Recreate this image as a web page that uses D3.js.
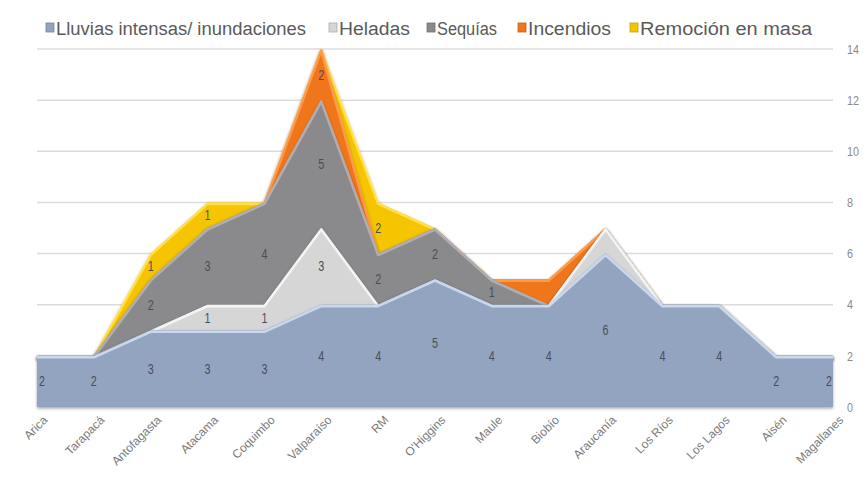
<!DOCTYPE html>
<html>
<head>
<meta charset="utf-8">
<script src="https://cdn.jsdelivr.net/npm/d3@7"></script>
<style>
  html, body { margin: 0; padding: 0; background: #fff; }
  svg { display: block; }
  text { font-family: "Liberation Sans", Arial, sans-serif; }
</style>
</head>
<body>
<svg id="chart" width="866" height="483"></svg>
<script>
// Regions of Chile (north to south)
const regions = ["Arica", "Tarapacá", "Antofagasta", "Atacama", "Coquimbo", "Valparaíso", "RM",
  "O'Higgins", "Maule", "Biobío", "Araucanía", "Los Ríos", "Los Lagos", "Aisén", "Magallanes"];

// Number of events per hazard type, per region
const lluvias   = [2, 2, 3, 3, 3, 4, 4, 5, 4, 4, 6, 4, 4, 2, 2];
const heladas   = [0, 0, 0, 1, 1, 3, 0, 0, 0, 0, 1, 0, 0, 0, 0];
const sequias   = [0, 0, 2, 3, 4, 5, 2, 2, 1, 0, 0, 0, 0, 0, 0];
const incendios = [0, 0, 0, 0, 0, 2, 0, 0, 0, 1, 0, 0, 0, 0, 0];
const remocion  = [0, 0, 1, 1, 0, 0, 2, 0, 0, 0, 0, 0, 0, 0, 0];

const seriesNames = ["Lluvias intensas/ inundaciones", "Heladas", "Sequías", "Incendios", "Remoción en masa"];
const yTicks = [0, 2, 4, 6, 8, 10, 12, 14];

// Values whose data label is not drawn (covered by neighbouring bands)
const hiddenLabels = [[1, 10], [3, 9]];

const seriesValues = [lluvias, heladas, sequias, incendios, remocion];
const keys = ["lluvias", "heladas", "sequias", "incendios", "remocion"];
const fills = ["#92a4c0", "#d6d6d6", "#8a898c", "#f0761e", "#f4c500"];
const highlights = ["#c9d8ee", "#f4f4f4", "#b0aeb2", "#ff9a4a", "#ffe04a"];

const table = regions.map((r, i) => {
  const row = { region: r };
  keys.forEach((k, s) => row[k] = seriesValues[s][i]);
  return row;
});

const svg = d3.select("#chart");
const margin = { left: 37, right: 33, top: 49, bottom: 76 };
const W = 866, H = 483;

const x = d3.scalePoint().domain(regions).range([margin.left, W - margin.right]).padding(0);
const y = d3.scaleLinear().domain([0, 14]).range([H - margin.bottom, margin.top]);

const defs = svg.append("defs");
const shadow = defs.append("filter").attr("id", "shade").attr("x", "-5%").attr("y", "-5%").attr("width", "110%").attr("height", "115%");
shadow.append("feDropShadow").attr("dx", 0).attr("dy", 1.5).attr("stdDeviation", 1.5)
  .attr("flood-color", "#000").attr("flood-opacity", 0.35);
const soft = defs.append("filter").attr("id", "soft");
soft.append("feGaussianBlur").attr("stdDeviation", 0.6);

// Horizontal gridlines
svg.append("g").selectAll("line").data(yTicks.filter(d => d > 0)).join("line")
  .attr("x1", margin.left).attr("x2", W - margin.right)
  .attr("y1", d => y(d)).attr("y2", d => y(d))
  .attr("stroke", "#dcdcdc").attr("stroke-width", 1.5);

// Right-hand y axis
const yAxis = svg.append("g")
  .attr("transform", `translate(${W - margin.right + 10},0)`)
  .call(d3.axisRight(y).tickValues(yTicks).tickSize(0).tickPadding(4));
yAxis.select(".domain").remove();
yAxis.selectAll("text").attr("fill", "#8a8a8a").attr("font-size", 13)
  .attr("textLength", d => d >= 10 ? 12 : 6).attr("lengthAdjust", "spacingAndGlyphs");

const stack = d3.stack().keys(keys);
const layers = stack(table);

const area = d3.area()
  .x(d => x(d.data.region))
  .y0(d => y(d[0]))
  .y1(d => y(d[1]));
const topLine = d3.line()
  .x(d => x(d.data.region))
  .y(d => y(d[1]));

const plot = svg.append("g").attr("filter", "url(#soft)");

// Draw from top series down so lower bands cast shadow onto the ones above
const order = layers.map((l, i) => i).reverse();
order.forEach(i => {
  const layer = layers[i];
  const g = plot.append("g").attr("filter", "url(#shade)");
  g.append("path").datum(layer).attr("d", area).attr("fill", fills[i]);
  g.append("path").datum(layer).attr("d", topLine)
    .attr("fill", "none").attr("stroke", highlights[i]).attr("stroke-width", 2.5)
    .attr("stroke-linejoin", "round").attr("transform", "translate(0,1.5)");
});

// Data labels at the centre of each band
const labels = svg.append("g");
layers.forEach((layer, s) => {
  layer.forEach((d, i) => {
    const v = seriesValues[s][i];
    if (!v) return;
    if (hiddenLabels.some(h => h[0] === s && h[1] === i)) return;
    let cx = x(regions[i]);
    cx = Math.max(margin.left + 5, Math.min(W - margin.right - 4, cx));
    labels.append("text")
      .attr("x", cx).attr("y", y((d[0] + d[1]) / 2))
      .attr("text-anchor", "middle").attr("dominant-baseline", "central")
      .attr("font-size", 14).attr("fill", "#4a4d58")
      .attr("textLength", 6).attr("lengthAdjust", "spacingAndGlyphs")
      .text(v);
  });
});

// Category axis with rotated labels
const xAxis = svg.append("g")
  .attr("transform", `translate(0,${H - margin.bottom})`)
  .call(d3.axisBottom(x).tickSize(0).tickPadding(6));
xAxis.select(".domain").remove();
xAxis.selectAll("text")
  .attr("fill", "#7a7a7a").attr("font-size", 12)
  .attr("text-anchor", "end")
  .attr("dy", "0.3em")
  .attr("transform", "translate(4,7) rotate(-45)");

// Legend
const legendX = [46, 329, 427, 518, 630];
const legendW = [250, 71, 60, 83, 172];
const legend = svg.append("g").attr("transform", "translate(0,28)");
seriesNames.forEach((name, i) => {
  const g = legend.append("g").attr("transform", `translate(${legendX[i]},0)`);
  g.append("rect").attr("x", 0).attr("y", -5).attr("width", 8).attr("height", 9)
    .attr("fill", fills[i]).attr("stroke", d3.color(fills[i]).darker(0.6)).attr("stroke-width", 0.8);
  g.append("text").attr("x", 10).attr("y", 1).attr("dominant-baseline", "central")
    .attr("font-size", 18).attr("fill", "#5a5a5a")
    .attr("textLength", legendW[i]).attr("lengthAdjust", "spacingAndGlyphs")
    .text(name);
});
</script>
</body>
</html>
